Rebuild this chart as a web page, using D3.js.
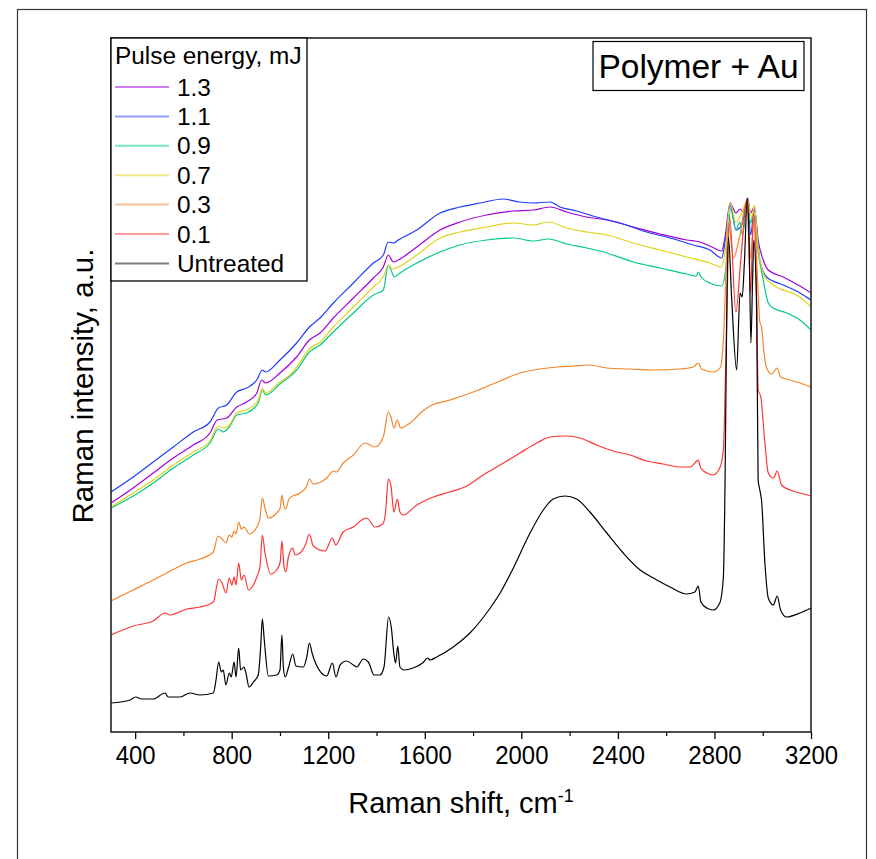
<!DOCTYPE html>
<html>
<head>
<meta charset="utf-8">
<script src="https://cdn.jsdelivr.net/npm/d3@7"></script>
<style>
  html, body { margin: 0; padding: 0; background: #fff; }
  text { font-family: "Liberation Sans", Arial, sans-serif; fill: #000; }
</style>
</head>
<body>
<svg id="chart" width="876" height="859"></svg>
<script>
// ---- Data (Raman shift in cm-1, intensity in arbitrary units) ----
const xTicks = [400, 800, 1200, 1600, 2000, 2400, 2800, 3200];
const xMinorTicks = [600, 1000, 1400, 1800, 2200, 2600, 3000];
const seriesNames = ["1.3", "1.1", "0.9", "0.7", "0.3", "0.1", "Untreated"];
const seriesColors = ["#a100d6", "#1e3cff", "#00c98a", "#e3d21a", "#f3862a", "#ff3535", "#000000"];

const s13 = [[300,229],[392,244],[475,259],[558,274],[641,287],[710,299],[740,312],[779,314],[821,325],[862,330],[904,339],[924,352],[940,349],[1000,359],[1069,375],[1122,392],[1166,399],[1221,414],[1304,434],[1387,454],[1428,465],[1449,477],[1470,470],[1490,472],[1567,485],[1663,502],[1746,510],[1856,517],[1967,521],[2050,522],[2119,525],[2188,520],[2271,515],[2354,512],[2464,505],[2574,498],[2685,492],[2740,490],[2781,486],[2830,481],[2844,495],[2865,529],[2889,519],[2906,523],[2920,520],[2937,534],[2950,519],[2965,525],[2981,492],[3002,472],[3023,462],[3085,455],[3154,446],[3200,439]];
const s11 = [[300,240],[392,255],[475,270],[558,285],[641,300],[710,310],[745,324],[779,327],[821,340],[862,344],[904,352],[927,362],[940,360],[1000,372],[1069,389],[1122,405],[1166,414],[1221,429],[1304,449],[1387,469],[1428,477],[1449,490],[1470,489],[1490,492],[1567,502],[1663,519],[1746,525],[1829,529],[1925,533],[1994,530],[2050,529],[2119,530],[2160,525],[2229,521],[2312,515],[2409,509],[2519,500],[2616,494],[2712,487],[2781,482],[2830,474],[2844,490],[2865,527],[2889,502],[2913,507],[2937,532],[2950,497],[2965,522],[2988,472],[3016,455],[3085,447],[3154,439],[3200,432]];
const s09 = [[300,224],[392,236],[475,249],[558,264],[641,277],[710,289],[745,303],[765,300],[790,305],[821,317],[862,319],[910,329],[927,342],[940,337],[1000,348],[1069,362],[1122,380],[1166,387],[1221,400],[1304,419],[1387,437],[1428,442],[1449,467],[1460,462],[1474,455],[1497,459],[1567,469],[1663,480],[1746,487],[1856,492],[1967,494],[2050,491],[2112,493],[2188,488],[2271,484],[2354,479],[2464,470],[2574,464],[2685,458],[2725,456],[2733,460],[2745,455],[2781,449],[2830,446],[2848,465],[2868,525],[2889,502],[2905,510],[2916,497],[2937,527],[2950,509],[2962,519],[2978,485],[3002,452],[3023,429],[3044,424],[3099,419],[3154,412],[3200,402]];
const s07 = [[300,225],[392,239],[475,252],[558,267],[641,280],[710,291],[745,306],[765,304],[790,307],[821,319],[862,322],[910,332],[927,344],[940,339],[1000,350],[1041,357],[1069,365],[1122,383],[1166,390],[1221,405],[1304,425],[1387,445],[1428,455],[1449,467],[1465,463],[1490,465],[1567,477],[1663,494],[1746,500],[1856,505],[1967,509],[2050,507],[2112,510],[2188,504],[2271,500],[2354,497],[2464,489],[2574,482],[2685,475],[2781,469],[2830,465],[2844,480],[2865,530],[2889,510],[2913,519],[2937,532],[2955,514],[2965,527],[2981,485],[3009,455],[3044,447],[3154,435],[3200,425]];
const s03 = [[300,131],[392,142],[475,152],[531,159],[614,169],[669,173],[724,180],[743,196],[760,193],[776,189],[790,197],[801,195],[810,201],[818,198],[829,210],[840,203],[851,205],[873,198],[904,205],[917,213],[927,234],[938,224],[952,214],[986,219],[1001,224],[1008,237],[1017,225],[1024,223],[1037,233],[1053,236],[1083,239],[1111,246],[1122,253],[1138,248],[1194,254],[1221,261],[1233,260],[1262,269],[1304,277],[1352,289],[1394,285],[1428,295],[1449,320],[1460,315],[1472,304],[1486,312],[1500,304],[1539,309],[1587,320],[1615,325],[1704,332],[1801,340],[1912,351],[1994,359],[2077,363],[2146,365],[2215,366],[2284,367],[2354,364],[2450,363],[2547,362],[2657,363],[2712,365],[2733,369],[2747,363],[2795,360],[2826,365],[2837,392],[2858,509],[2879,474],[2904,495],[2935,532],[2950,474],[2965,515],[2978,455],[2988,410],[2995,405],[3005,380],[3016,364],[3037,358],[3060,364],[3074,355],[3113,352],[3154,349],[3200,345]];
const s01 = [[300,97],[392,106],[475,111],[524,119],[544,117],[614,123],[669,125],[724,130],[746,153],[760,149],[776,139],[790,154],[801,147],[810,155],[818,147],[829,169],[840,152],[851,157],[870,142],[904,155],[917,165],[927,197],[938,179],[962,158],[986,162],[1001,170],[1008,191],[1017,165],[1024,160],[1035,175],[1053,184],[1062,177],[1083,179],[1105,187],[1122,198],[1138,186],[1187,181],[1217,194],[1231,187],[1262,200],[1304,205],[1345,213],[1359,214],[1394,205],[1426,208],[1437,219],[1449,253],[1460,246],[1472,220],[1486,233],[1497,220],[1511,217],[1567,227],[1635,235],[1704,240],[1774,246],[1842,257],[1912,267],[1994,279],[2064,289],[2119,295],[2188,296],[2243,294],[2312,287],[2381,281],[2450,277],[2519,271],[2588,268],[2657,265],[2699,265],[2719,269],[2733,272],[2743,264],[2768,259],[2793,257],[2822,264],[2837,282],[2848,382],[2863,515],[2889,420],[2909,472],[2935,532],[2950,439],[2961,519],[2975,430],[2981,342],[2992,335],[3009,289],[3023,259],[3044,254],[3060,261],[3078,247],[3113,242],[3154,239],[3200,236]];
const sUntreated = [[300,29],[379,32],[402,35],[427,33],[475,33],[524,39],[537,35],[586,35],[627,39],[669,37],[724,39],[735,52],[746,70],[757,60],[765,62],[776,47],[790,59],[798,55],[810,70],[818,55],[829,84],[837,62],[851,65],[859,59],[872,45],[890,50],[910,57],[920,85],[927,113],[935,92],[952,56],[986,57],[1000,62],[1008,97],[1014,65],[1022,55],[1036,65],[1053,78],[1066,66],[1097,65],[1111,75],[1122,89],[1133,79],[1149,68],[1194,56],[1217,69],[1232,55],[1249,67],[1276,71],[1304,67],[1318,65],[1345,73],[1366,70],[1390,57],[1414,57],[1431,65],[1450,115],[1461,105],[1472,78],[1479,69],[1488,86],[1497,65],[1514,62],[1552,64],[1591,69],[1612,74],[1622,72],[1649,75],[1718,85],[1787,99],[1856,119],[1912,139],[1967,164],[2036,199],[2091,222],[2132,233],[2181,236],[2229,233],[2284,220],[2354,199],[2422,179],[2492,162],[2547,154],[2616,145],[2685,138],[2719,140],[2733,146],[2744,130],[2768,124],[2795,122],[2822,129],[2837,155],[2844,252],[2851,419],[2858,495],[2871,435],[2892,362],[2906,439],[2915,435],[2924,469],[2936,534],[2944,485],[2951,389],[2958,452],[2963,492],[2975,419],[2981,252],[2988,242],[2995,232],[3009,169],[3023,134],[3044,127],[3060,136],[3074,122],[3099,115],[3154,119],[3200,124]];

const seriesData = [s13, s11, s09, s07, s03, s01, sUntreated];

// ---- Layout ----
const svg = d3.select("#chart");
const plot = { left: 111, right: 811, top: 38, bottom: 732 };

const x = d3.scaleLinear().domain([300, 3200]).range([plot.left, plot.right]);
const y = d3.scaleLinear().domain([0, 694]).range([plot.bottom, plot.top]);

// outer frame
svg.append("rect").attr("x", 17.5).attr("y", 9.5).attr("width", 849).attr("height", 870)
  .attr("fill", "none").attr("stroke", "#333").attr("stroke-width", 1.2);

// clip
svg.append("clipPath").attr("id", "clip").append("rect")
  .attr("x", plot.left).attr("y", plot.top)
  .attr("width", plot.right - plot.left).attr("height", plot.bottom - plot.top);

const line = d3.line().x(d => x(d[0])).y(d => y(d[1])).curve(d3.curveMonotoneX);

const g = svg.append("g").attr("clip-path", "url(#clip)");
seriesData.forEach((data, i) => {
  g.append("path").datum(data)
    .attr("d", line)
    .attr("fill", "none")
    .attr("stroke", seriesColors[i])
    .attr("stroke-width", 1.2)
    .attr("stroke-linejoin", "round");
});

// axes
const xAxis = svg.append("g").attr("transform", `translate(0,${plot.bottom})`)
  .call(d3.axisBottom(x).tickValues(xTicks).tickSize(7).tickPadding(7).tickFormat(d3.format("d")));
xAxis.select(".domain").remove();
xAxis.selectAll(".tick line").attr("stroke", "#000").attr("stroke-width", 1.3);
xAxis.selectAll(".tick text").attr("font-size", 26).attr("font-family", '"Liberation Sans", Arial, sans-serif')
  .attr("transform", "scale(0.92,1)");

const xMinor = svg.append("g").attr("transform", `translate(0,${plot.bottom})`)
  .call(d3.axisBottom(x).tickValues(xMinorTicks).tickSize(4).tickFormat(""));
xMinor.select(".domain").remove();
xMinor.selectAll(".tick line").attr("stroke", "#000").attr("stroke-width", 1.2);

// plot frame
svg.append("rect").attr("x", plot.left).attr("y", plot.top)
  .attr("width", plot.right - plot.left).attr("height", plot.bottom - plot.top)
  .attr("fill", "none").attr("stroke", "#222").attr("stroke-width", 1.6);

// axis titles
const xt = svg.append("text").attr("x", 461).attr("y", 813).attr("text-anchor", "middle")
  .attr("font-size", 29);
xt.append("tspan").text("Raman shift, cm");
xt.append("tspan").attr("dy", -11).attr("font-size", 18).text("-1");

svg.append("text").attr("transform", "translate(93,386) rotate(-90)")
  .attr("text-anchor", "middle").attr("font-size", 29.5)
  .text("Raman intensity, a.u.");

// title box
svg.append("rect").attr("x", 593).attr("y", 41.5).attr("width", 211).attr("height", 49)
  .attr("fill", "#fff").attr("stroke", "#000").attr("stroke-width", 1.2);
svg.append("text").attr("x", 698.5).attr("y", 78).attr("text-anchor", "middle")
  .attr("font-size", 33.5).text("Polymer + Au");

// legend
const lg = svg.append("g");
lg.append("rect").attr("x", plot.left).attr("y", plot.top).attr("width", 196).attr("height", 243)
  .attr("fill", "#fff").attr("stroke", "#000").attr("stroke-width", 1.3);
lg.append("text").attr("x", 115).attr("y", 64).attr("font-size", 24.4).text("Pulse energy, mJ");
seriesNames.forEach((name, i) => {
  const cy = 87 + i * 29.4;
  lg.append("line").attr("x1", 115).attr("x2", 169).attr("y1", cy).attr("y2", cy)
    .attr("stroke", seriesColors[i]).attr("stroke-width", 2).attr("stroke-opacity", 0.5);
  lg.append("text").attr("x", 177).attr("y", cy + 8.5).attr("font-size", 24.4).text(name);
});
</script>
</body>
</html>
